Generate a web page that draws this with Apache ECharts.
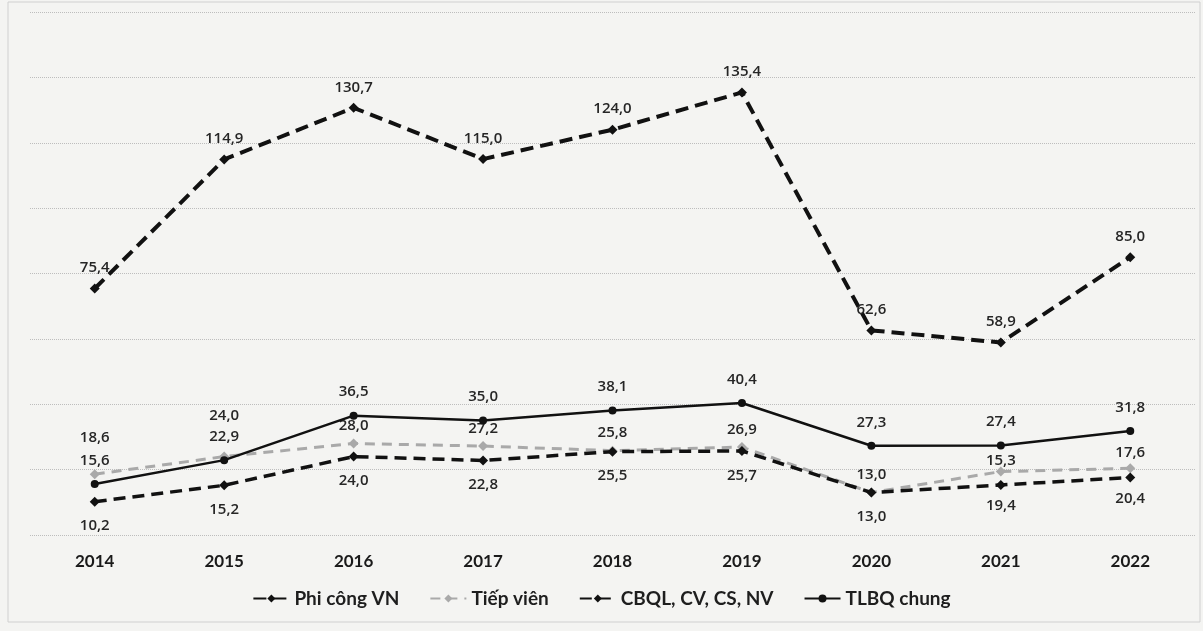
<!DOCTYPE html>
<html>
<head>
<meta charset="utf-8">
<script src="https://cdn.jsdelivr.net/npm/echarts@6/dist/echarts.min.js"></script>
<style>
  html, body { margin: 0; padding: 0; background: #f4f4f2; }
  #chart { width: 1203px; height: 631px; }
</style>
</head>
<body>
<div id="chart"></div>
<script>
// nam
const years = ['2014', '2015', '2016', '2017', '2018', '2019', '2020', '2021', '2022'];
// thu nhap binh quan theo nhom
const phiCong = [75.4, 114.9, 130.7, 115.0, 124.0, 135.4, 62.6, 58.9, 85.0];
const tiepVien = [18.6, 24.0, 28.0, 27.2, 25.8, 26.9, 13.0, 19.4, 20.4];
const cbql = [10.2, 15.2, 24.0, 22.8, 25.5, 25.7, 13.0, 15.3, 17.6];
const tlbq = [15.6, 22.9, 36.5, 35.0, 38.1, 40.4, 27.3, 27.4, 31.8];

// vi tri nhan nhu trong ban goc (2021, 2022 bi dao)
const tvLabelPos = ['top', 'top', 'top', 'top', 'top', 'top', 'top', 'bottom', 'bottom'];
const tvLabelDist = [24, 28, 5, 5, 5, 5, 5, 22, 18];
const cbLabelPos = ['bottom', 'bottom', 'bottom', 'bottom', 'bottom', 'bottom', 'bottom', 'top', 'top'];

const fmt = (p) => p.value.toFixed(1).replace('.', ',');
const labelBase = { show: true, formatter: fmt, color: '#262626', fontSize: 15, fontWeight: 600, fontFamily: 'Open Sans' };

const chart = echarts.init(document.getElementById('chart'));
const option = {
  backgroundColor: '#f4f4f2',
  animation: false,
  grid: { left: 30, right: 8, top: 12, bottom: 96 },
  legend: {
    bottom: 18,
    left: 'center',
    itemWidth: 36,
    itemHeight: 10,
    itemGap: 30,
    textStyle: { color: '#1e1e1e', fontSize: 19, fontWeight: 'bold', fontFamily: 'Lato' },
    data: ['Phi công VN', 'Tiếp viên', 'CBQL, CV, CS, NV', 'TLBQ chung']
  },
  xAxis: {
    type: 'category',
    data: years,
    axisLine: { show: false },
    axisTick: { show: false },
    axisLabel: { color: '#1a1a1a', fontSize: 17, fontWeight: 'bold', fontFamily: 'Lato', margin: 18 }
  },
  yAxis: {
    type: 'value',
    min: 0,
    max: 160,
    interval: 20,
    axisLabel: { show: false },
    axisLine: { show: false },
    splitLine: { lineStyle: { color: '#bdbdbd', type: 'dotted', width: 1 } }
  },
  series: [
    {
      name: 'Phi công VN',
      type: 'line',
      data: phiCong,
      symbol: 'diamond',
      symbolSize: 10,
      itemStyle: { color: '#111' },
      lineStyle: { color: '#111', width: 4, type: [13, 7] },
      label: Object.assign({}, labelBase, { position: 'top', distance: 8 }),
      z: 4
    },
    {
      name: 'Tiếp viên',
      type: 'line',
      data: tiepVien.map((v, i) => ({ value: v, label: { position: tvLabelPos[i], distance: tvLabelDist[i] } })),
      symbol: 'diamond',
      symbolSize: 10,
      itemStyle: { color: '#a9a9a9' },
      lineStyle: { color: '#a9a9a9', width: 3, type: [10, 7] },
      label: Object.assign({}, labelBase),
      z: 2
    },
    {
      name: 'CBQL, CV, CS, NV',
      type: 'line',
      data: cbql.map((v, i) => ({ value: v, label: { position: cbLabelPos[i] } })),
      symbol: 'diamond',
      symbolSize: 10,
      itemStyle: { color: '#111' },
      lineStyle: { color: '#111', width: 3.5, type: [12, 7] },
      label: Object.assign({}, labelBase, { distance: 12 }),
      z: 3
    },
    {
      name: 'TLBQ chung',
      type: 'line',
      data: tlbq,
      symbol: 'circle',
      symbolSize: 8,
      itemStyle: { color: '#111' },
      lineStyle: { color: '#111', width: 2.5 },
      label: Object.assign({}, labelBase, { position: 'top', distance: 12 }),
      z: 5
    }
  ],
  graphic: [
    {
      type: 'rect',
      shape: { x: 8, y: 2, width: 1192, height: 620 },
      style: { fill: 'none', stroke: '#d0d0d0', lineWidth: 1 },
      silent: true
    }
  ]
};
chart.setOption(option);
</script>
</body>
</html>
